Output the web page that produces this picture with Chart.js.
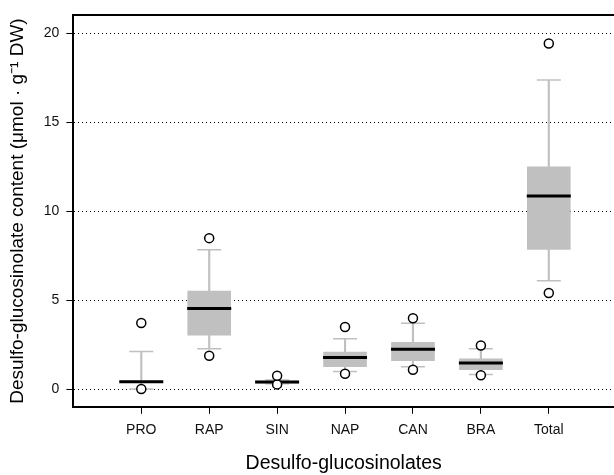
<!DOCTYPE html>
<html>
<head>
<meta charset="utf-8">
<script src="https://cdn.jsdelivr.net/npm/chart.js@4/dist/chart.umd.min.js"></script>
<style>
  body { margin: 0; background: #fff; }
  #wrap { width: 614px; height: 475px; }
</style>
</head>
<body>
<div id="wrap"><canvas id="boxes"></canvas></div>
<script>
var categories = ["PRO", "RAP", "SIN", "NAP", "CAN", "BRA", "Total"];
var whiskerLow = [0.0, 2.26, 0.30, 0.99, 1.25, 0.82, 6.09];
var q1 = [0.36, 3.03, 0.33, 1.25, 1.59, 1.08, 7.84];
var medians = [0.41, 4.52, 0.39, 1.77, 2.24, 1.46, 10.85];
var q3 = [0.45, 5.51, 0.45, 2.07, 2.63, 1.70, 12.49];
var whiskerHigh = [2.11, 7.83, 0.50, 2.82, 3.70, 2.26, 17.37];
var outlierLow = [0.0, 1.87, 0.26, 0.86, 1.08, 0.77, 5.40];
var outlierHigh = [3.71, 8.48, 0.75, 3.49, 3.98, 2.45, 19.42];
var yTicks = [0, 5, 10, 15, 20];

var boxGrey = "#c0c0c0";
var fontName = "'Liberation Sans', Arial, sans-serif";

function pts(arr) {
  return arr.map(function (v, i) { return { x: i, y: v }; });
}
function ranges(lo, hi) {
  return lo.map(function (v, i) { return { x: i, y: [v, hi[i]] }; });
}

var boxData = {
  datasets: [
    {
      // whisker stems
      type: "bar",
      data: ranges(whiskerLow, whiskerHigh),
      backgroundColor: boxGrey,
      barThickness: 1.5,
      grouped: false,
      order: 5,
    },
    {
      // boxes
      type: "bar",
      data: ranges(q1, q3),
      backgroundColor: boxGrey,
      borderWidth: 0,
      barThickness: 43,
      grouped: false,
      order: 4,
    },
    {
      type: "scatter",
      data: pts(whiskerLow).concat(pts(whiskerHigh)),
      pointStyle: "line",
      pointRadius: 12,
      borderColor: boxGrey,
      borderWidth: 1.5,
      order: 3,
    },
    {
      type: "scatter",
      data: pts(medians),
      pointStyle: "line",
      pointRadius: 22,
      borderColor: "#000",
      borderWidth: 3,
      order: 2,
    },
    {
      type: "scatter",
      data: pts(outlierLow).concat(pts(outlierHigh)),
      pointStyle: "circle",
      pointRadius: 4.5,
      backgroundColor: "#fff",
      borderColor: "#000",
      borderWidth: 1.5,
      order: 1,
    },
  ],
};

var boxOptions = {
  responsive: true,
  maintainAspectRatio: false,
  animation: false,
  layout: { autoPadding: false, padding: { top: 10, right: 0, left: 6, bottom: 0 } },
  plugins: { legend: { display: false }, tooltip: { enabled: false } },
  scales: {
    x: {
      type: "linear",
      position: "bottom",
      offset: false,
      min: -1,
      max: 6.96,
      afterBuildTicks: function (axis) {
        axis.ticks = categories.map(function (c, i) { return { value: i }; });
      },
      ticks: {
        color: "#111",
        font: { family: fontName, size: 14 },
        padding: 8,
        callback: function (v) { return categories[v]; },
      },
      grid: { offset: false, drawOnChartArea: false, drawTicks: true, tickLength: 7, tickColor: "#000", tickWidth: 1 },
      border: { display: true, color: "#000", width: 2 },
      title: {
        display: true,
        text: "Desulfo-glucosinolates",
        color: "#000",
        font: { family: fontName, size: 19.5 },
        padding: { top: 5, bottom: 0 },
      },
    },
    x2: {
      type: "linear",
      position: "top",
      offset: false,
      min: -1,
      max: 6.96,
      ticks: { display: false },
      grid: { offset: false, display: false, drawTicks: false },
      border: { display: true, color: "#000", width: 2 },
    },
    y: {
      min: -1,
      max: 21,
      afterBuildTicks: function (axis) {
        axis.ticks = yTicks.map(function (v) { return { value: v }; });
      },
      ticks: {
        color: "#111",
        font: { family: fontName, size: 14 },
        padding: 7,
      },
      grid: {
        color: "#000",
        lineWidth: 1,
        tickLength: 7,
        tickColor: "#000",
        tickBorderDash: [],
      },
      border: { display: true, color: "#000", width: 2, dash: [1, 3] },
      title: {
        display: true,
        text: "Desulfo-glucosinolate content (\u03bcmol \u00b7 g\u207b\u00b9 DW)",
        color: "#000",
        font: { family: fontName, size: 19 },
        padding: { top: 0, bottom: 8 },
      },
    },
  },
};

var ctx = document.getElementById("boxes").getContext("2d");
var boxChart = new Chart(ctx, {
  type: "bar",
  data: boxData,
  options: boxOptions,
});
</script>
</body>
</html>
